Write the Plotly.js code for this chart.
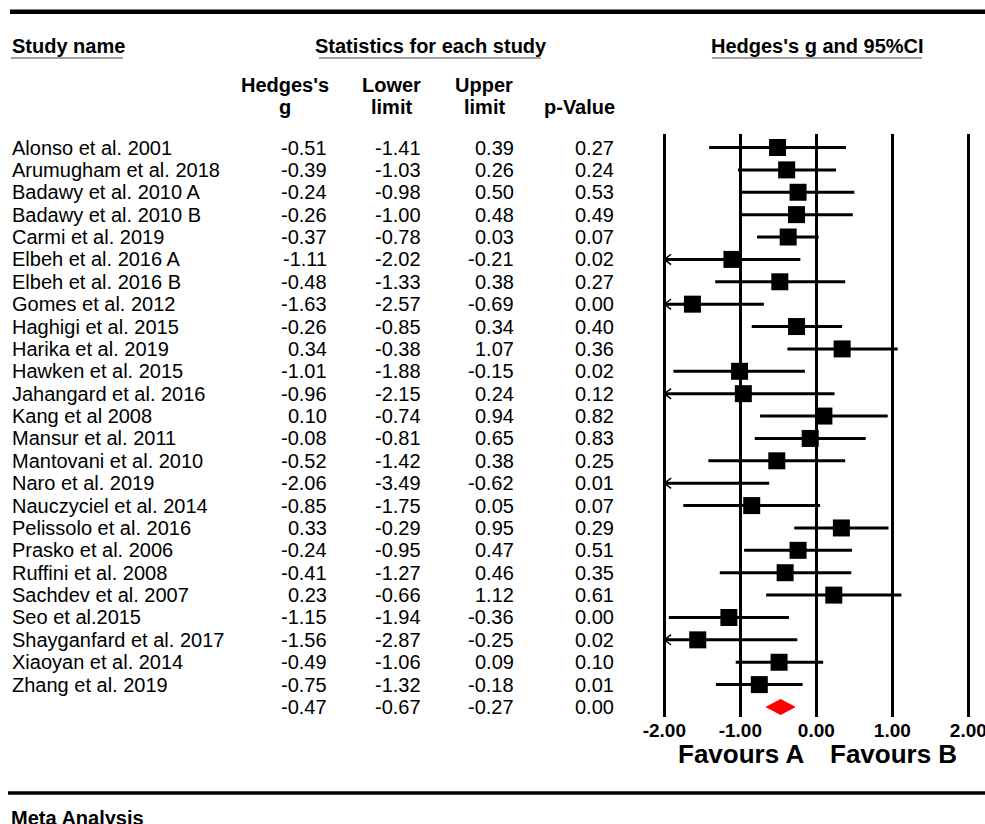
<!DOCTYPE html>
<html><head><meta charset="utf-8">
<script src="https://cdn.plot.ly/plotly-3.0.1.min.js"></script>
<style>html,body{margin:0;padding:0;background:#fff}#chart{width:985px;height:824px}</style>
</head><body><div id="chart"></div>
<script>
// ---------------- data ----------------
const studies = [
  'Alonso et al. 2001','Arumugham et al. 2018','Badawy et al. 2010 A','Badawy et al. 2010 B',
  'Carmi et al. 2019','Elbeh et al. 2016 A','Elbeh et al. 2016 B','Gomes et al. 2012',
  'Haghigi et al. 2015','Harika et al. 2019','Hawken et al. 2015','Jahangard et al. 2016',
  'Kang et al 2008','Mansur et al. 2011','Mantovani et al. 2010','Naro et al. 2019',
  'Nauczyciel et al. 2014','Pelissolo et al. 2016','Prasko et al. 2006','Ruffini et al. 2008',
  'Sachdev et al. 2007','Seo et al.2015','Shayganfard et al. 2017','Xiaoyan et al. 2014','Zhang et al. 2019'
];
const hedgesG    = [-0.51,-0.39,-0.24,-0.26,-0.37,-1.11,-0.48,-1.63,-0.26, 0.34,-1.01,-0.96, 0.10,-0.08,-0.52,-2.06,-0.85, 0.33,-0.24,-0.41, 0.23,-1.15,-1.56,-0.49,-0.75];
const lowerLimit = [-1.41,-1.03,-0.98,-1.00,-0.78,-2.02,-1.33,-2.57,-0.85,-0.38,-1.88,-2.15,-0.74,-0.81,-1.42,-3.49,-1.75,-0.29,-0.95,-1.27,-0.66,-1.94,-2.87,-1.06,-1.32];
const upperLimit = [ 0.39, 0.26, 0.50, 0.48, 0.03,-0.21, 0.38,-0.69, 0.34, 1.07,-0.15, 0.24, 0.94, 0.65, 0.38,-0.62, 0.05, 0.95, 0.47, 0.46, 1.12,-0.36,-0.25, 0.09,-0.18];
const pValue     = [ 0.27, 0.24, 0.53, 0.49, 0.07, 0.02, 0.27, 0.00, 0.40, 0.36, 0.02, 0.12, 0.82, 0.83, 0.25, 0.01, 0.07, 0.29, 0.51, 0.35, 0.61, 0.00, 0.02, 0.10, 0.01];
const summaryG = -0.47, summaryLower = -0.67, summaryUpper = -0.27, summaryP = 0.00;
const tickVals = [-2, -1, 0, 1, 2];
const tickText = ['-2.00', '-1.00', '0.00', '1.00', '2.00'];
const favoursLabels = ['Favours A', 'Favours B'];
const headerTitles = ['Study name', 'Statistics for each study', "Hedges's g and 95%CI"];
const columnHeads1 = ["Hedges's", 'Lower', 'Upper', ''];
const columnHeads2 = ['g', 'limit', 'limit', 'p-Value'];
const footerTitle = 'Meta Analysis';

// ---------------- layout helpers ----------------
const W = 985, H = 824;
const FONT = 'Liberation Sans, Arial, Helvetica, sans-serif';
const px = v => v / W;
const py = v => 1 - v / H;
const xMin = tickVals[0], xMax = tickVals[tickVals.length - 1];
const nRows = studies.length;
const summaryRow = nRows;

// ---------------- traces ----------------
const ciX = [], ciY = [], arX = [], arY = [];
const ARROW_DX = 0.09, ARROW_DY = 0.23;
for (let i = 0; i < nRows; i++) {
  ciX.push(Math.max(lowerLimit[i], xMin), Math.min(upperLimit[i], xMax), null);
  ciY.push(i, i, null);
  if (lowerLimit[i] < xMin) {
    arX.push(xMin + ARROW_DX, xMin, xMin + ARROW_DX, null);
    arY.push(i - ARROW_DY, i, i + ARROW_DY, null);
  }
}
const sqX = [], sqY = [];
hedgesG.forEach((g, i) => { if (g >= xMin && g <= xMax) { sqX.push(g); sqY.push(i); } });
const DH = 0.36;

const traces = [
  {type: 'scatter', mode: 'lines', x: ciX, y: ciY, line: {color: '#000', width: 3}, hoverinfo: 'skip', cliponaxis: false},
  {type: 'scatter', mode: 'lines', x: arX, y: arY, line: {color: '#000', width: 1.5}, hoverinfo: 'skip', cliponaxis: false},
  {type: 'scatter', mode: 'markers', x: sqX, y: sqY, marker: {symbol: 'square', size: 17, color: '#000', line: {width: 0}}, hoverinfo: 'skip'},
  {type: 'scatter', mode: 'lines', fill: 'toself', fillcolor: '#ff0000',
   x: [summaryLower, summaryG, summaryUpper, summaryG, summaryLower],
   y: [summaryRow, summaryRow - DH, summaryRow, summaryRow + DH, summaryRow],
   line: {color: '#ff0000', width: 0}, hoverinfo: 'skip'}
];

// ---------------- annotations ----------------
const ann = [];
function txt(text, x, y, opts) {
  ann.push(Object.assign({text: text, x: x, y: y, xref: 'paper', yref: 'paper', showarrow: false,
    xanchor: 'center', yanchor: 'middle', borderpad: 0,
    font: {family: FONT, size: 20, color: '#000'}}, opts || {}));
}
const bold = (size) => ({family: FONT, size: size, color: '#000', weight: 'bold'});
// headers
txt(headerTitles[0], px(11), py(46), {xanchor: 'left', font: bold(20)});
txt(headerTitles[1], px(431), py(46), {font: bold(20)});
txt(headerTitles[2], px(817), py(46), {font: bold(20)});
const headCenters = [285, 391, 484, 579];
columnHeads1.forEach((t, k) => { if (t) txt(t, px(headCenters[k]), py(85), {font: bold(20)}); });
columnHeads2.forEach((t, k) => txt(t, px(headCenters[k]), py(107), {font: bold(20)}));
// rows
const colRight = [328, 422, 515, 615];
function rowText(label, vals, i) {
  if (label) ann.push({text: label, x: px(11), y: i, xref: 'paper', yref: 'y', showarrow: false,
    xanchor: 'left', yanchor: 'middle', borderpad: 0, font: {family: FONT, size: 20, color: '#000'}});
  vals.forEach((v, k) => ann.push({text: v.toFixed(2), x: px(colRight[k]), y: i, xref: 'paper', yref: 'y',
    showarrow: false, xanchor: 'right', yanchor: 'middle', borderpad: 0,
    font: {family: FONT, size: 20, color: '#000'}}));
}
for (let i = 0; i < nRows; i++) rowText(studies[i], [hedgesG[i], lowerLimit[i], upperLimit[i], pValue[i]], i);
rowText('', [summaryG, summaryLower, summaryUpper, summaryP], summaryRow);
// favours
txt(favoursLabels[0], px(741), py(754), {font: bold(26)});
txt(favoursLabels[1], px(893), py(754), {font: bold(26)});
// footer
txt(footerTitle, px(10), py(818), {xanchor: 'left', font: bold(20)});

// ---------------- shapes ----------------
const shapes = [
  {type: 'line', xref: 'paper', yref: 'paper', x0: px(10), x1: 1, y0: py(11.7), y1: py(11.7), line: {color: '#000', width: 4.5}},
  {type: 'line', xref: 'paper', yref: 'paper', x0: px(8), x1: 1, y0: py(793), y1: py(793), line: {color: '#000', width: 3.5}},
  {type: 'line', xref: 'paper', yref: 'paper', x0: px(11), x1: px(123), y0: py(58), y1: py(58), line: {color: '#808080', width: 1.6}},
  {type: 'line', xref: 'paper', yref: 'paper', x0: px(319), x1: px(541), y0: py(58), y1: py(58), line: {color: '#808080', width: 1.6}},
  {type: 'line', xref: 'paper', yref: 'paper', x0: px(712), x1: px(922), y0: py(58), y1: py(58), line: {color: '#808080', width: 1.6}}
];

const yTopPix = 134, yBotPix = 717, row0Pix = 147.5, rowStep = 22.38;
const layout = {
  width: W, height: H,
  margin: {l: 0, r: 0, t: 0, b: 0},
  paper_bgcolor: '#fff', plot_bgcolor: 'rgba(0,0,0,0)',
  showlegend: false,
  font: {family: FONT, color: '#000'},
  xaxis: {
    domain: [650 / W, 1],
    range: [xMin - (664.3 - 650) / 76, xMin + (W - 664.3) / 76],
    tickmode: 'array', tickvals: tickVals, ticktext: tickText,
    showgrid: true, gridcolor: '#000', gridwidth: 3,
    zeroline: false, showline: false, ticks: '',
    ticklabeloverflow: 'allow',
    tickfont: {family: FONT, size: 19, color: '#000', weight: 'bold'},
    fixedrange: true
  },
  yaxis: {
    domain: [py(yBotPix), py(yTopPix)],
    range: [(yBotPix - row0Pix) / rowStep, (yTopPix - row0Pix) / rowStep],
    showgrid: false, zeroline: false, showticklabels: false, showline: false, ticks: '',
    fixedrange: true
  },
  annotations: ann,
  shapes: shapes
};
Plotly.newPlot('chart', traces, layout, {displayModeBar: false, staticPlot: true});
</script>
</body></html>
